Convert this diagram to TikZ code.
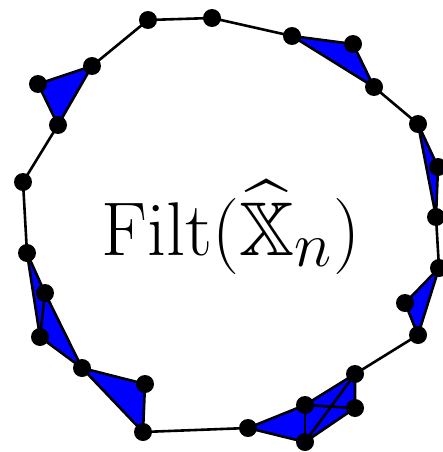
\documentclass[tikz,border=0pt]{standalone}
\usepackage{amsmath,amssymb}
\begin{document}
\begin{tikzpicture}[x=1pt,y=-1pt,
  vtx/.style={circle,fill=black,inner sep=0pt,minimum size=18pt},
  edge/.style={line width=2.6pt,line join=round},
  simplex/.style={fill=blue,draw=black,line width=2.6pt,line join=round}]
\useasboundingbox (0,0) rectangle (443,452);
\clip (0,0) rectangle (443,452);
% coordinates
\coordinate (p1) at (148,20);
\coordinate (p2) at (212,18);
\coordinate (p3) at (92,66);
\coordinate (p4) at (38,84);
\coordinate (p5) at (58,125);
\coordinate (p6) at (23,182);
\coordinate (p7) at (292,36);
\coordinate (p8) at (353,44);
\coordinate (p9) at (374,87);
\coordinate (p10) at (418,124);
\coordinate (p11) at (438,167);
\coordinate (p12) at (436,217);
\coordinate (p13) at (439,268);
\coordinate (p14) at (405,303);
\coordinate (p15) at (418,335);
\coordinate (p16) at (27,253);
\coordinate (p17) at (45,293);
\coordinate (p18) at (40,337);
\coordinate (p19) at (82,368);
\coordinate (p20) at (145,384);
\coordinate (p21) at (143,432);
\coordinate (p22) at (355,374);
\coordinate (p23) at (355,408);
\coordinate (p24) at (305,405);
\coordinate (p25) at (305,442);
\coordinate (p26) at (248,428);
% filled simplices
\path[simplex] (p3) -- (p4) -- (p5) -- cycle;
\path[simplex] (p7) -- (p8) -- (p9) -- cycle;
\path[simplex] (p10) -- (p11) -- (p12) -- cycle;
\path[simplex] (p13) -- (p14) -- (p15) -- cycle;
\path[simplex] (p16) -- (p17) -- (p19) -- (p18) -- cycle;
\path[simplex] (p19) -- (p20) -- (p21) -- cycle;
\path[simplex] (p26) -- (p24) -- (p22) -- (p23) -- (p25) -- cycle;
% interior edges
\draw[edge] (p17) -- (p18);
\draw[edge] (p24) -- (p25);
\draw[edge] (p24) -- (p23);
\draw[edge] (p25) -- (p22);
% cycle edges
\draw[edge] (p2) -- (p1) -- (p3);
\draw[edge] (p5) -- (p6) -- (p16);
\draw[edge] (p21) -- (p26);
\draw[edge] (p22) -- (p15);
\draw[edge] (p13) -- (p12);
\draw[edge] (p10) -- (p9);
\draw[edge] (p7) -- (p2);
% vertices
\foreach \i in {1,...,26} \node[vtx] (v\i) at (p\i) {};
% label
\node[anchor=base,inner sep=0pt,scale=3.06,font=\Huge] (lbl) at (231,255)
  {$\mathrm{Filt}(\widehat{\mathbb{X}}_n)$};
\end{tikzpicture}
\end{document}
